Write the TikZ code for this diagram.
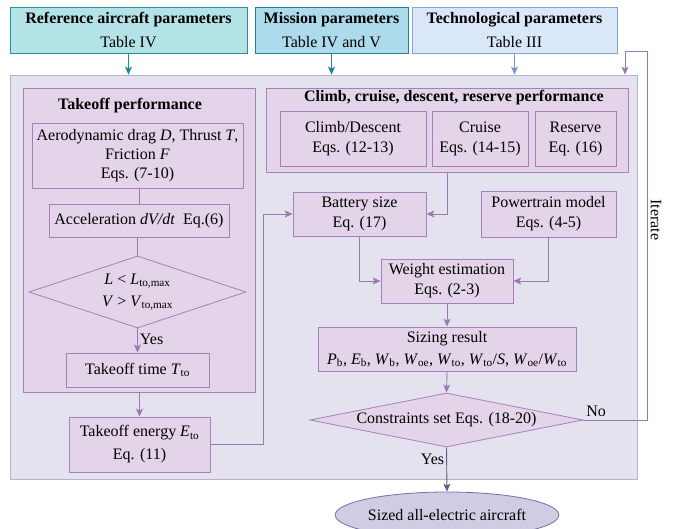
\documentclass[tikz,border=0pt]{standalone}
\usepackage{fontspec}
\setmainfont{Liberation Serif}
\usetikzlibrary{shapes.geometric,arrows.meta}
\definecolor{reffill}{HTML}{B3E3E6}
\definecolor{refborder}{HTML}{2A8E96}
\definecolor{refarrow}{HTML}{1D8C92}
\definecolor{misfill}{HTML}{ADDBEB}
\definecolor{misborder}{HTML}{22809F}
\definecolor{misarrow}{HTML}{1C7EA0}
\definecolor{techfill}{HTML}{DAE7F8}
\definecolor{techborder}{HTML}{86A3D6}
\definecolor{techarrow}{HTML}{7595CF}
\definecolor{bgfill}{HTML}{E5E2EF}
\definecolor{bgborder}{HTML}{B9B1D3}
\definecolor{pfill}{HTML}{E3D4E9}
\definecolor{pborder}{HTML}{A680B9}
\definecolor{parrow}{HTML}{9C78B2}
\definecolor{efill}{HTML}{CFCCE4}
\definecolor{eborder}{HTML}{76709F}
\definecolor{earrow}{HTML}{5F5A8C}
\newcommand\sym[2]{\textit{#1}\textsubscript{#2}}
\begin{document}
\begin{tikzpicture}[x=1pt,y=-1pt,
  every node/.style={font=\fontsize{16}{20}\selectfont, text=black},
  titletext/.style={font=\fontsize{16}{20}\selectfont\bfseries},
  pbox/.style={draw=pborder, fill=pfill, line width=0.8pt, inner sep=0pt, align=center},
  topbox/.style={line width=0.8pt, inner sep=0pt, align=center, minimum height=46pt},
  tip/.style={-{Stealth[length=8pt,width=7pt,inset=2pt]}},
  arr/.style={draw=parrow, line width=0.9pt, tip},
  ln/.style={draw=parrow, line width=0.9pt}]
\useasboundingbox (0,0) rectangle (681,529);

% background frame
\node[draw=bgborder, fill=bgfill, line width=0.8pt, inner sep=0pt,
      minimum width=627pt, minimum height=404pt] (bg) at (323.5,277) {};

% input boxes
\node[topbox, draw=refborder, fill=reffill, minimum width=237pt] (ref) at (128.5,30)
  {\textbf{Reference aircraft parameters}\\[4pt]Table IV};
\node[topbox, draw=misborder, fill=misfill, minimum width=153pt] (mis) at (331.5,30)
  {\textbf{Mission parameters}\\[4pt]Table IV and V};
\node[topbox, draw=techborder, fill=techfill, minimum width=205pt] (tech) at (514.5,30)
  {\textbf{Technological parameters}\\[4pt]Table III};

% takeoff group
\node[pbox, minimum width=232pt, minimum height=304pt] (togroup) at (139,240) {};
\node[titletext] (totitle) at (130,106) {Takeoff performance};
\node[pbox, minimum width=211pt, minimum height=65pt] (aero) at (137.5,155.5)
  {Aerodynamic drag \textit{D}, Thrust \textit{T},\\[-1pt]Friction \textit{F}\\[-1pt]Eqs. (7-10)};
\node[pbox, minimum width=180pt, minimum height=33pt] (accel) at (139,220.5)
  {Acceleration \textit{dV/dt}\ \ Eq.(6)};
\node[diamond, draw=pborder, fill=pfill, line width=0.8pt, inner sep=0pt,
      minimum width=217pt, minimum height=72pt] (dia) at (137.5,292) {};
\node[align=center, inner sep=0pt] (diatext) at (dia.center)
  {\textit{L} < \sym{L}{to,max}\\[2pt]\textit{V} > \sym{V}{to,max}};
\node[pbox, minimum width=143pt, minimum height=34pt] (ttime) at (137.5,370)
  {Takeoff time \sym{T}{to}};
\node[pbox, minimum width=141pt, minimum height=55pt] (energy) at (139.5,444.5)
  {Takeoff energy \sym{E}{to}\\[3pt]Eq. (11)};

% climb group
\node[pbox, minimum width=362pt, minimum height=84pt] (clgroup) at (447,130) {};
\node[titletext] (cltitle) at (454,98) {Climb, cruise, descent, reserve performance};
\node[pbox, minimum width=146pt, minimum height=55pt] (climb) at (353,138.5)
  {Climb/Descent\\Eqs. (12-13)};
\node[pbox, minimum width=96pt, minimum height=55pt] (cruise) at (480,138.5)
  {Cruise\\Eqs. (14-15)};
\node[pbox, minimum width=81pt, minimum height=55pt] (reserve) at (575.5,138.5)
  {Reserve\\Eq. (16)};

% sizing chain
\node[pbox, minimum width=133pt, minimum height=44pt] (battery) at (359.5,214)
  {Battery size\\Eq. (17)};
\node[pbox, minimum width=135pt, minimum height=46pt] (power) at (548.5,214)
  {Powertrain model\\Eqs. (4-5)};
\node[pbox, minimum width=132pt, minimum height=44pt] (weight) at (447,281)
  {Weight estimation\\Eqs. (2-3)};
\node[pbox, minimum width=258pt, minimum height=44pt] (sizing) at (447,349)
  {Sizing result\\[2pt]\sym{P}{b}, \sym{E}{b}, \sym{W}{b}, \sym{W}{oe}, \sym{W}{to}, \sym{W}{to}/\textit{S}, \sym{W}{oe}/\sym{W}{to}};
\node[diamond, draw=pborder, fill=pfill, line width=0.8pt, inner sep=0pt,
      minimum width=273pt, minimum height=54pt] (cons) at (446.5,420) {};
\node[inner sep=0pt] (constext) at (cons.center) {Constraints set Eqs. (18-20)};
\node[ellipse, draw=eborder, fill=efill, line width=0.8pt, inner sep=0pt,
      minimum width=184pt, minimum height=46pt] (final) at (447,515)
  {Sized all-electric aircraft};

% input arrows
\draw[refarrow, line width=0.9pt, tip] (ref.south) -- (ref.south |- bg.north);
\draw[misarrow, line width=0.9pt, tip] (mis.south) -- (mis.south |- bg.north);
\draw[techarrow, line width=0.9pt, tip] (tech.south) -- (tech.south |- bg.north);

% takeoff connectors
\draw[ln] (aero.south -| accel.north) -- (accel.north);
\draw[ln] (accel.south -| dia.north) -- (dia.north);
\draw[arr] (dia.south) -- node[right, inner sep=2pt, pos=0.45] (yes1) {Yes} (ttime.north);
\draw[arr] (togroup.south -| energy.north) -- (energy.north);
\draw[arr] (energy.east) -- ++(53,0) |- (battery.west);

% sizing connectors
\draw[arr] (clgroup.south) |- (battery.east);
\draw[arr] (battery.south) |- (weight.west);
\draw[arr] (power.south) |- (weight.east);
\draw[arr] (weight.south) -- (sizing.north);
\draw[arr] (sizing.south) -- (cons.north);
\draw[earrow, line width=0.9pt, tip] (cons.south) -- node[left, inner sep=2pt, pos=0.28] (yes2) {Yes} (final.north);

% iterate loop
\coordinate (it1) at (647,420);
\coordinate (it2) at (647,51);
\coordinate (it3) at (625,51);
\draw[arr] (cons.east) -- node[above, pos=0.2, inner sep=3pt] (no) {No} (it1) -- (it2) -- (it3) -- (it3 |- bg.north);
\node[rotate=-90] (iter) at (656,220) {Iterate};
\end{tikzpicture}
\end{document}
